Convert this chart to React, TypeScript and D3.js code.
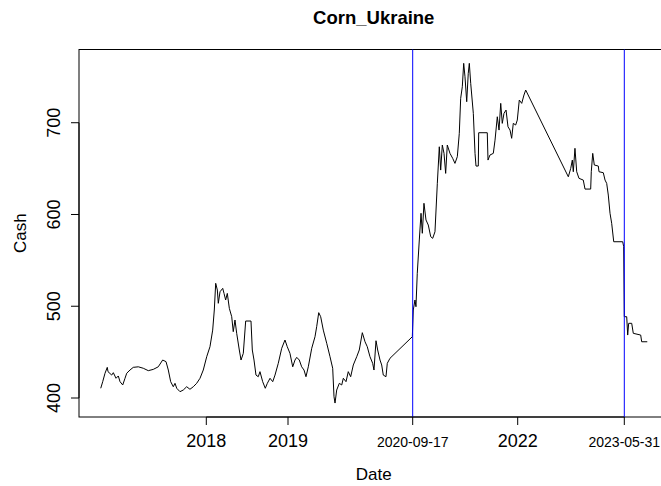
import { useEffect, useRef } from 'react'
import * as d3 from 'd3'

// decimal years
const dateYears = [
  2016.708, 2016.732, 2016.76, 2016.788, 2016.797, 2016.842, 2016.862, 2016.895, 2016.923, 2016.944,
  2016.977, 2017.005, 2017.026, 2017.066, 2017.106, 2017.168, 2017.229, 2017.29, 2017.351, 2017.412,
  2017.466, 2017.507, 2017.535, 2017.564, 2017.596, 2017.617, 2017.638, 2017.678, 2017.718, 2017.76,
  2017.8, 2017.841, 2017.882, 2017.923, 2017.963, 2018.005, 2018.045, 2018.078, 2018.098, 2018.115,
  2018.135, 2018.147, 2018.168, 2018.201, 2018.217, 2018.237, 2018.257, 2018.282, 2018.311, 2018.33,
  2018.351, 2018.372, 2018.404, 2018.425, 2018.453, 2018.482, 2018.547, 2018.563, 2018.584, 2018.608,
  2018.636, 2018.657, 2018.69, 2018.722, 2018.747, 2018.78, 2018.813, 2018.841, 2018.881, 2018.923,
  2018.963, 2018.991, 2019.027, 2019.065, 2019.096, 2019.12, 2019.155, 2019.188, 2019.22, 2019.247,
  2019.279, 2019.326, 2019.371, 2019.394, 2019.422, 2019.449, 2019.485, 2019.532, 2019.577, 2019.614,
  2019.632, 2019.646, 2019.669, 2019.705, 2019.738, 2019.76, 2019.797, 2019.828, 2019.861, 2019.897,
  2019.944, 2019.979, 2020.021, 2020.058, 2020.089, 2020.126, 2020.163, 2020.181, 2020.209, 2020.232,
  2020.264, 2020.287, 2020.309, 2020.346, 2020.364, 2020.401, 2020.708, 2020.72, 2020.741, 2020.753,
  2020.769, 2020.794, 2020.815, 2020.831, 2020.851, 2020.876, 2020.904, 2020.934, 2020.958, 2020.986,
  2021.015, 2021.039, 2021.056, 2021.076, 2021.097, 2021.117, 2021.137, 2021.17, 2021.203, 2021.231,
  2021.26, 2021.284, 2021.301, 2021.321, 2021.338, 2021.354, 2021.375, 2021.394, 2021.407, 2021.424,
  2021.456, 2021.477, 2021.489, 2021.517, 2021.522, 2021.627, 2021.636, 2021.66, 2021.701, 2021.722,
  2021.75, 2021.771, 2021.792, 2021.811, 2021.832, 2021.857, 2021.881, 2021.906, 2021.926, 2021.946,
  2021.975, 2021.995, 2022.021, 2022.053, 2022.083, 2022.106, 2022.67, 2022.702, 2022.723, 2022.736,
  2022.758, 2022.781, 2022.811, 2022.868, 2022.891, 2022.966, 2022.974, 2022.993, 2023.014, 2023.067,
  2023.076, 2023.133, 2023.156, 2023.178, 2023.199, 2023.222, 2023.244, 2023.271, 2023.39, 2023.403,
  2023.411, 2023.443, 2023.456, 2023.469, 2023.509, 2023.53, 2023.628, 2023.641, 2023.715,
]

const cashValues = [
  410.6, 417.8, 426.9, 433.4, 428.7, 425.0, 427.6, 421.5, 424.0, 417.8,
  414.2, 421.5, 427.0, 430.5, 433.4, 434.0, 432.4, 429.8, 431.2, 434.0,
  441.4, 439.6, 430.5, 417.8, 412.3, 416.0, 410.6, 406.9, 408.7, 412.3,
  409.5, 412.3, 416.0, 421.5, 430.5, 445.0, 455.9, 474.0, 495.9, 525.0,
  517.7, 503.2, 515.8, 519.5, 514.0, 506.8, 514.0, 497.7, 488.6, 472.3,
  485.0, 470.5, 452.3, 441.4, 448.7, 483.9, 483.9, 452.3, 441.4, 425.0,
  423.2, 428.7, 417.8, 410.6, 416.0, 421.5, 417.8, 425.0, 437.8, 454.2,
  463.2, 455.9, 448.7, 434.0, 441.4, 444.3, 441.4, 434.0, 430.5, 423.2,
  434.0, 454.2, 466.8, 477.7, 493.0, 488.6, 474.0, 459.6, 445.0, 432.4,
  401.4, 394.5, 408.7, 416.0, 414.2, 421.5, 417.8, 428.7, 423.2, 436.0,
  445.0, 452.3, 471.2, 461.3, 455.9, 445.0, 437.8, 430.5, 462.4, 452.3,
  441.4, 436.0, 425.0, 423.2, 437.8, 443.3, 466.8, 495.9, 506.8, 499.5,
  535.9, 572.2, 601.3, 579.5, 612.2, 594.0, 588.5, 575.8, 574.0, 581.2,
  634.0, 673.8, 648.4, 675.7, 666.6, 644.8, 675.7, 666.6, 661.2, 655.7,
  663.0, 688.4, 726.6, 739.2, 764.7, 750.1, 722.9, 753.8, 764.7, 742.9,
  710.2, 666.6, 652.8, 652.8, 689.1, 689.1, 659.3, 664.8, 666.6, 681.0,
  706.5, 692.0, 721.1, 699.3, 710.2, 713.8, 695.6, 692.0, 683.0, 699.3,
  697.5, 702.9, 724.7, 721.1, 730.2, 735.6, 641.1, 650.3, 659.3, 646.6,
  672.1, 646.6, 639.4, 637.5, 627.7, 627.7, 646.6, 666.6, 653.9, 652.8,
  646.6, 645.5, 637.5, 633.9, 621.2, 601.3, 590.4, 570.3, 570.3, 564.9,
  488.6, 488.6, 468.6, 481.4, 481.4, 470.5, 468.6, 461.3, 461.3,
]

const xTickYears = [2018, 2019, 2020.713, 2022, 2023.411]
const xTickLabels = ['2018', '2019', '2020-09-17', '2022', '2023-05-31']
const xTickSmall = [false, false, true, false, true]
const markerYears = [2020.713, 2023.411]
const yTicks = [400, 500, 600, 700]
const yDomain = [379.3, 779.8]

const W = 661
const H = 486
const FONT = '"Liberation Sans", Arial, Helvetica, sans-serif'

export default function App() {
  const svgRef = useRef<SVGSVGElement | null>(null)

  useEffect(() => {
    const plot = { left: 79, right: 668.5, top: 49.5, bottom: 417 }
    // axis calibration taken from the tick marks (spacing is uneven in the source)
    const tickPx = [206.3, 288, 412.7, 517.7, 624.3]

    const svg = d3.select(svgRef.current)
    svg.selectAll('*').remove()
    svg.attr('viewBox', `0 0 ${W} ${H}`)

    const x = d3.scaleLinear().domain(xTickYears).range(tickPx)
    const y = d3.scaleLinear().domain(yDomain).range([plot.bottom, plot.top])

    const data = dateYears.map((t, i) => ({ t, v: cashValues[i] }))

    // ================= BOX =================
    svg
      .append('rect')
      .attr('x', plot.left)
      .attr('y', plot.top)
      .attr('width', plot.right - plot.left)
      .attr('height', plot.bottom - plot.top)
      .attr('fill', 'none')
      .attr('stroke', '#000')
      .attr('stroke-width', 1)
      .attr('shape-rendering', 'auto')

    // ================= LINE =================
    const line = d3
      .line<{ t: number; v: number }>()
      .x((d) => x(d.t))
      .y((d) => y(d.v))

    svg
      .append('path')
      .datum(data)
      .attr('fill', 'none')
      .attr('stroke', '#000')
      .attr('stroke-width', 1)
      .attr('stroke-linejoin', 'round')
      .attr('d', line)

    // ================= MARKERS =================
    svg
      .selectAll('.marker')
      .data(markerYears)
      .join('line')
      .attr('class', 'marker')
      .attr('x1', (d) => x(d))
      .attr('x2', (d) => x(d))
      .attr('y1', plot.top)
      .attr('y2', plot.bottom)
      .attr('stroke', '#0000ff')
      .attr('stroke-width', 1)

    // ================= X AXIS =================
    const xa = svg.append('g')
    xa.append('line')
      .attr('x1', x(xTickYears[0]))
      .attr('x2', x(xTickYears[xTickYears.length - 1]))
      .attr('y1', plot.bottom)
      .attr('y2', plot.bottom)
      .attr('stroke', '#000')
    xTickYears.forEach((t, i) => {
      xa.append('line')
        .attr('x1', x(t))
        .attr('x2', x(t))
        .attr('y1', plot.bottom)
        .attr('y2', plot.bottom + 8)
        .attr('stroke', '#000')
      xa.append('text')
        .attr('x', x(t))
        .attr('y', 447)
        .attr('text-anchor', 'middle')
        .attr('font-family', FONT)
        .attr('font-size', xTickSmall[i] ? 14 : 18)
        .attr('fill', '#000')
        .text(xTickLabels[i])
    })

    // ================= Y AXIS =================
    const ya = svg.append('g')
    ya.append('line')
      .attr('x1', plot.left)
      .attr('x2', plot.left)
      .attr('y1', y(yTicks[0]))
      .attr('y2', y(yTicks[yTicks.length - 1]))
      .attr('stroke', '#000')
    yTicks.forEach((v) => {
      ya.append('line')
        .attr('x1', plot.left - 8)
        .attr('x2', plot.left)
        .attr('y1', y(v))
        .attr('y2', y(v))
        .attr('stroke', '#000')
      ya.append('text')
        .attr('transform', `translate(60,${y(v)}) rotate(-90)`)
        .attr('text-anchor', 'middle')
        .attr('font-family', FONT)
        .attr('font-size', 18)
        .attr('fill', '#000')
        .text(String(v))
    })

    // ================= TITLES =================
    const cx = (plot.left + plot.right) / 2
    const cy = (plot.top + plot.bottom) / 2
    svg
      .append('text')
      .attr('x', cx)
      .attr('y', 23.5)
      .attr('text-anchor', 'middle')
      .attr('font-family', FONT)
      .attr('font-weight', 'bold')
      .attr('font-size', 18.5)
      .text('Corn_Ukraine')
    svg
      .append('text')
      .attr('x', cx)
      .attr('y', 480)
      .attr('text-anchor', 'middle')
      .attr('font-family', FONT)
      .attr('font-size', 17)
      .text('Date')
    svg
      .append('text')
      .attr('transform', `translate(26,${cy}) rotate(-90)`)
      .attr('text-anchor', 'middle')
      .attr('font-family', FONT)
      .attr('font-size', 17)
      .text('Cash')
  }, [])

  return (
    <svg
      ref={svgRef}
      width={W}
      height={H}
      style={{ position: 'absolute', left: 0, top: 0, background: '#fff' }}
    />
  )
}
